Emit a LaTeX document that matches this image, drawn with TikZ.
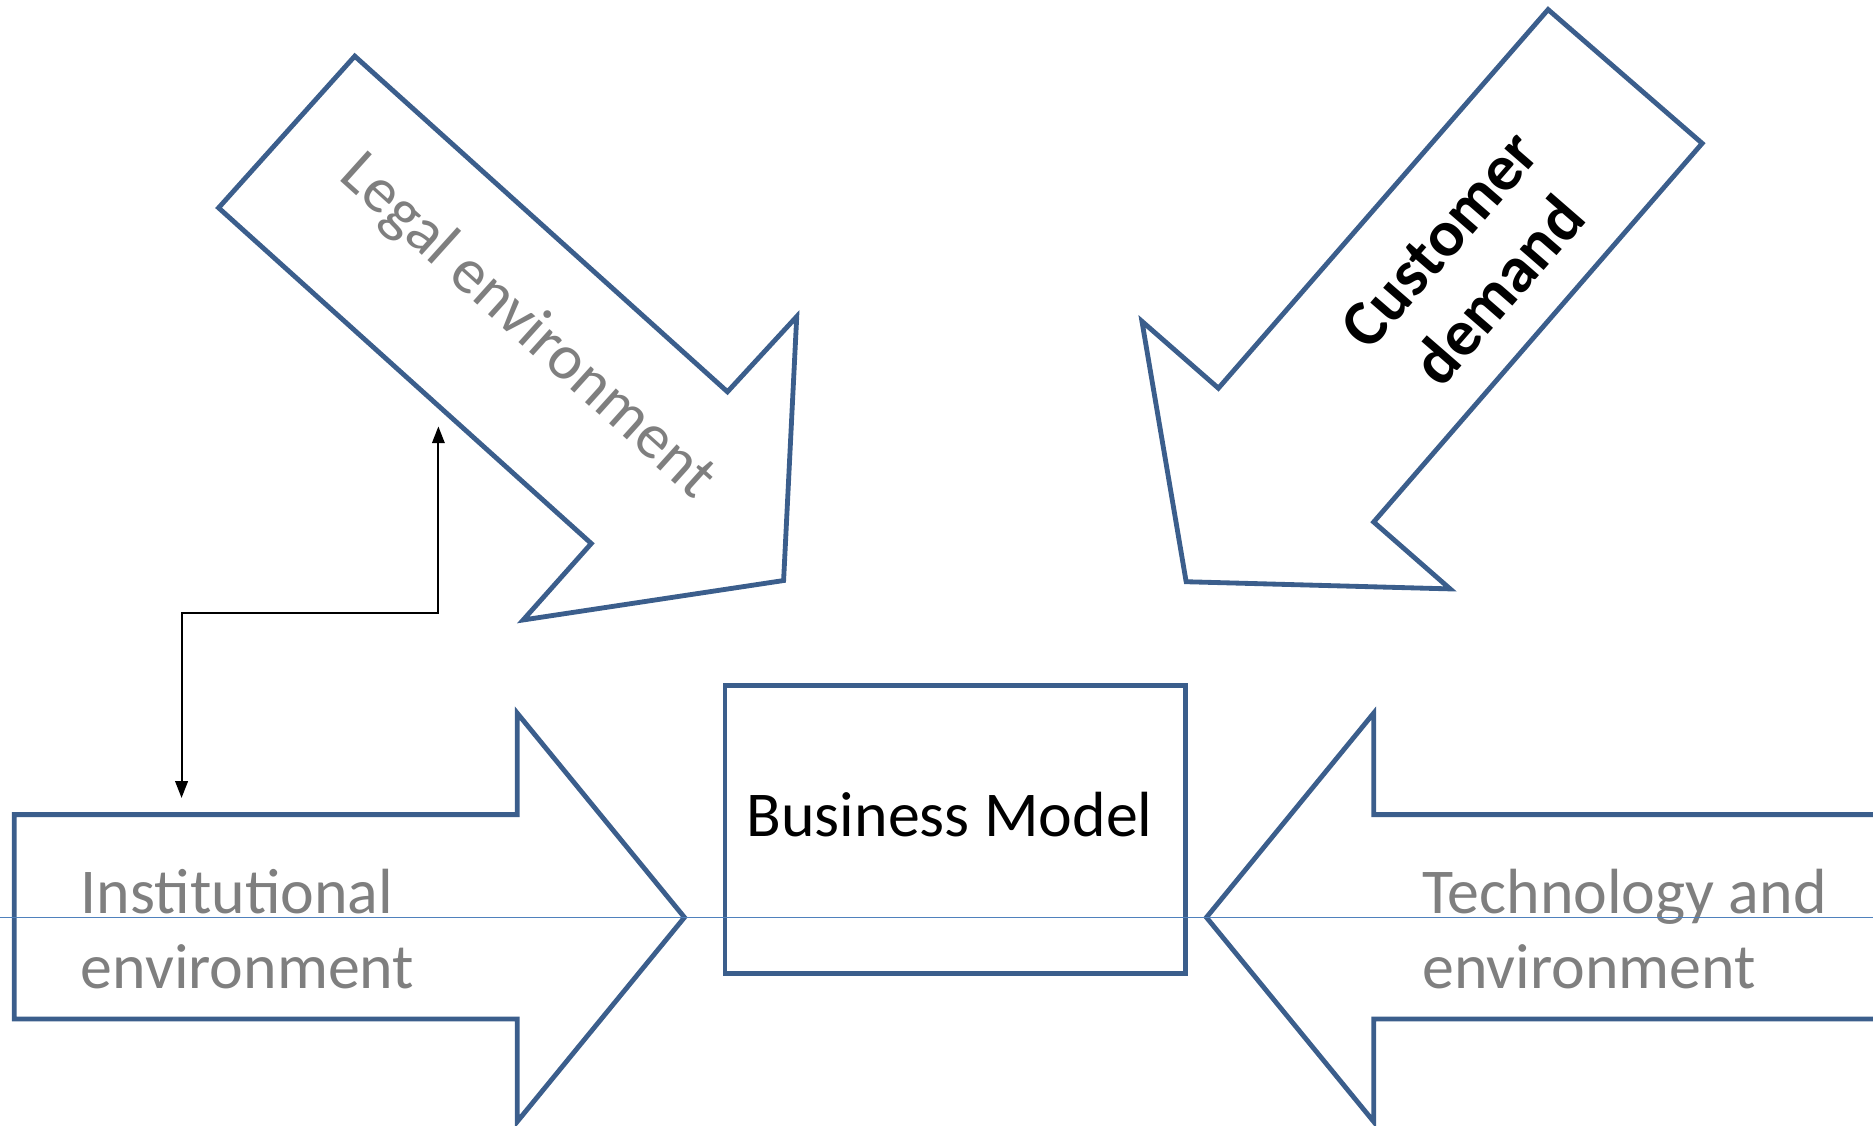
\documentclass[tikz,border=0pt]{standalone}
\usepackage{fontspec}
\setmainfont{Carlito}
\usetikzlibrary{arrows.meta}
\definecolor{arrowblue}{HTML}{3B5E8C}
\definecolor{lineblue}{HTML}{4F81BD}
\definecolor{txtgray}{HTML}{7F7F7F}
\tikzset{
  bigarrow/.style={draw=arrowblue, line width=1.15pt, line join=miter, fill=white},
  graylabel/.style={text=txtgray, font=\fontsize{15.2pt}{17.8pt}\selectfont, inner sep=0pt},
  link/.style={draw=black, line width=0.45pt, {Triangle[length=4pt,width=3pt]}-{Triangle[length=4pt,width=3pt]}}
}
\begin{document}
\begin{tikzpicture}[x=0.01cm, y=-0.01cm]
\useasboundingbox (0,0) rectangle (1568,942);
% Legal environment arrow
\draw[bigarrow] (297,47) -- (183,174) -- (495,455) -- (438,519) -- (656,486) -- (667,265) -- (609,328) -- cycle;
\node[graylabel, rotate=-42] (legal) at (441,274) {Legal environment};
% Customer demand arrow
\draw[bigarrow] (1296,8) -- (1425,120) -- (1150,437) -- (1214,493) -- (993,487) -- (956,269) -- (1020,325) -- cycle;
\node[inner sep=0pt, rotate=49, align=center, font=\fontsize{15.6pt}{18.5pt}\selectfont\bfseries] (customer) at (1230,222) {Customer\\demand};
% Business model box
\node[draw=arrowblue, line width=1.15pt, minimum width=3.85cm, minimum height=2.41cm, inner sep=0pt] (bmbox) at (799.5,694.5) {};
\node[inner sep=0pt, anchor=base, font=\fontsize{15.2pt}{17.8pt}\selectfont] (bm) at (795,700) {Business Model};
% Left arrow
\draw[bigarrow] (12,682) -- (433,682) -- (433,597) -- (573,768) -- (433,939) -- (433,853) -- (12,853) -- cycle;
\node[graylabel, anchor=north west, align=left] (inst) at (67,727) {Institutional\\environment};
% Right arrow
\draw[bigarrow] (1575,682) -- (1150,682) -- (1150,597) -- (1010,768) -- (1150,939) -- (1150,853) -- (1575,853);
\node[graylabel, anchor=north west, align=left] (tech) at (1190,727) {Technology and\\environment};
% thin horizontal line
\coordinate (hl) at (0,768);
\coordinate (hr) at (1568,768);
\draw[lineblue, line width=0.4pt] (hl) -- (hr);
% connector
\coordinate (c1) at (152,668);
\coordinate (c2) at (367,357);
\draw[link] (c1) |- (260,513) -| (c2);
\end{tikzpicture}
\end{document}
